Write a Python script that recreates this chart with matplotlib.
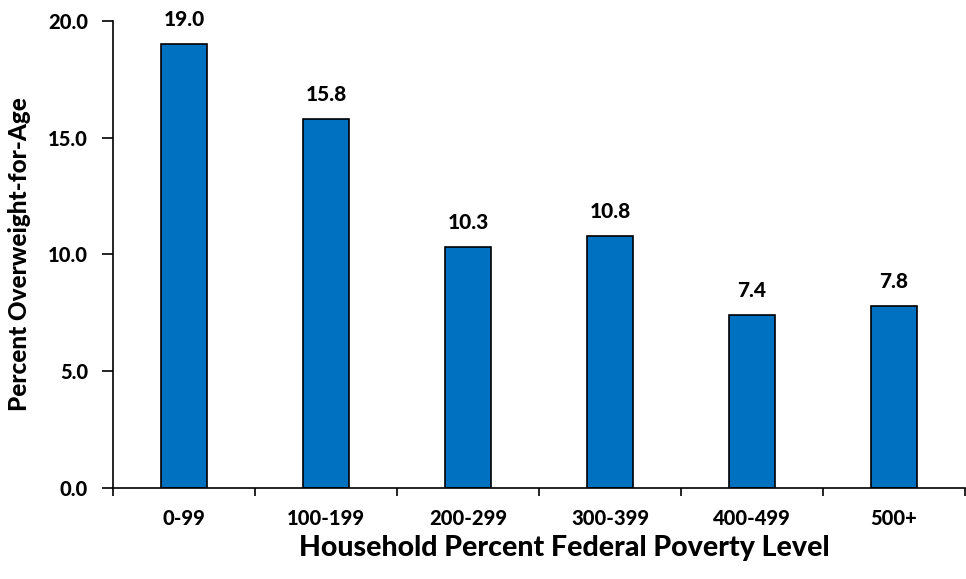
import matplotlib.pyplot as plt
import numpy as np

categories = ['0-99', '100-199', '200-299', '300-399', '400-499', '500+']
values = [19.0, 15.8, 10.3, 10.8, 7.4, 7.8]
yticks = [0.0, 5.0, 10.0, 15.0, 20.0]

plt.rcParams['font.family'] = ['Lato', 'DejaVu Sans']
W = 'black'

fig = plt.figure(figsize=(9.66, 5.79), dpi=100)
ax = fig.add_axes([0.117, 0.157, 0.882, 0.807])

x = np.arange(len(categories))
ax.bar(x, values, width=0.33, color='#0070C0', edgecolor='black', linewidth=1.2)

for xi, v in zip(x, values):
    ax.text(xi, v + 0.65, f'{v:.1f}', ha='center', va='bottom', fontsize=15, fontweight=W)

ax.set_xlim(-0.5, len(categories) - 0.5)
ax.set_ylim(0, 20)
ax.set_yticks(yticks)
ax.set_yticklabels([f'{t:.1f}' for t in yticks], fontsize=14.5, fontweight=W)

# ticks between categories, labels at centers
ax.set_xticks(np.arange(len(categories) + 1) - 0.5)
ax.set_xticklabels([])
ax.set_xticks(x, minor=True)
ax.set_xticklabels(categories, minor=True, fontsize=14.5, fontweight=W)
ax.tick_params(axis='x', which='minor', length=0, pad=15)
ax.tick_params(axis='x', which='major', length=6, width=1.2, direction='out')
ax.tick_params(axis='y', length=8, width=1.2, direction='out', pad=10)

for side in ['top', 'right']:
    ax.spines[side].set_visible(False)
for side in ['left', 'bottom']:
    ax.spines[side].set_linewidth(1.2)

ax.set_ylabel('Percent Overweight-for-Age', fontsize=17.5, fontweight=W, labelpad=12)
ax.set_xlabel('Household Percent Federal Poverty Level', fontsize=20.5, fontweight=W)
ax.xaxis.set_label_coords(0.53, -0.10)

fig.savefig('out.png', dpi=100)
